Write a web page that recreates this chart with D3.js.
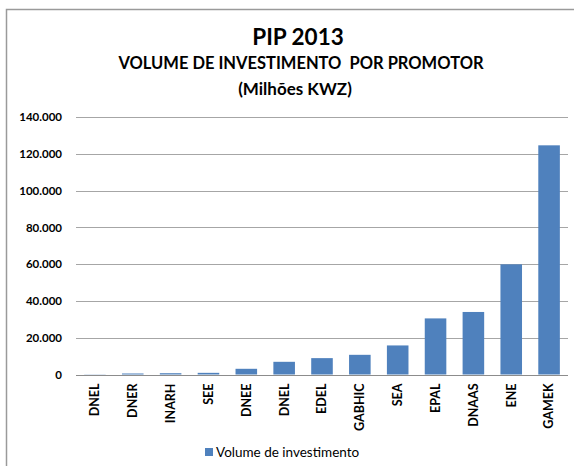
<!DOCTYPE html>
<html>
<head>
<meta charset="utf-8">
<script src="https://cdn.jsdelivr.net/npm/d3@7"></script>
<style>
  body { margin: 0; background: #fff; }
  svg { display: block; font-family: Lato, "Open Sans", sans-serif; }
</style>
</head>
<body>
<svg id="chart" width="574" height="466"></svg>
<script>
// dados
var promotores = ["DNEL", "DNER", "INARH", "SEE", "DNEE", "DNEL", "EDEL", "GABHIC", "SEA", "EPAL", "DNAAS", "ENE", "GAMEK"];
var valores = [100, 550, 700, 900, 3100, 6900, 8900, 10700, 15800, 30500, 34000, 59900, 124600];
var yTicks = [0, 20000, 40000, 60000, 80000, 100000, 120000, 140000];
var serie = "Volume de investimento";

var width = 574, height = 466;
var margin = {top: 117, right: 6, bottom: 92, left: 76};
var color = "#4f81bd";

var svg = d3.select("#chart");

// moldura (só topo e esquerda aparecem)
svg.append("path")
    .attr("d", "M6.5,470 L6.5,9.5 L580,9.5")
    .attr("fill", "none")
    .attr("stroke", "#9a9a9a")
    .attr("stroke-width", 1.5);

var idx = promotores.map(function(d, i) { return i; });

var x = d3.scaleBand()
    .domain(idx)
    .range([margin.left, width - margin.right])
    .paddingInner(0.43)
    .paddingOuter(0.215);

var y = d3.scaleLinear()
    .domain([0, 140000])
    .range([height - margin.bottom + 0.5, margin.top]);

var fmt = function(v) { return v === 0 ? "0" : d3.format(",")(v).replace(/,/g, "."); };

// grelha
svg.append("g")
    .selectAll("line")
    .data(yTicks)
    .enter()
    .append("line")
    .attr("x1", margin.left)
    .attr("x2", width - margin.right)
    .attr("y1", function(d) { return Math.round(y(d)) + 0.5; })
    .attr("y2", function(d) { return Math.round(y(d)) + 0.5; })
    .attr("stroke", function(d) { return d === 0 ? "#8c8c8c" : "#a6a6a6"; })
    .attr("stroke-width", 1.2);

// eixo y
var yAxis = d3.axisLeft(y).tickValues(yTicks).tickFormat(fmt).tickSize(0).tickPadding(14);
svg.append("g")
    .attr("transform", "translate(" + margin.left + ",0)")
    .call(yAxis)
    .call(function(g) { g.select(".domain").remove(); })
    .selectAll("text")
    .attr("font-family", "Lato, sans-serif")
    .attr("font-size", 11.5)
    .attr("font-weight", "bold")
    .attr("fill", "#000");

// barras
svg.append("g")
    .selectAll("rect")
    .data(valores)
    .enter()
    .append("rect")
    .attr("x", function(d, i) { return x(i); })
    .attr("width", x.bandwidth())
    .attr("y", function(d) { return y(d); })
    .attr("height", function(d) { return y(0) - y(d); })
    .attr("fill", color);

// eixo x
var xAxis = d3.axisBottom(x).tickFormat(function(i) { return promotores[i]; }).tickSize(0).tickPadding(0);
var gx = svg.append("g")
    .attr("transform", "translate(0," + y(0) + ")")
    .call(xAxis);
gx.select(".domain").remove();
gx.selectAll("text")
    .attr("font-family", "Lato, sans-serif")
    .attr("font-size", 12.5)
    .attr("font-weight", "bold")
    .attr("fill", "#000")
    .attr("transform", "rotate(-90)")
    .attr("x", -9)
    .attr("y", 0)
    .attr("dy", "0.35em")
    .style("text-anchor", "end");

// títulos
svg.append("text")
    .attr("x", 298).attr("y", 45)
    .attr("text-anchor", "middle")
    .attr("font-size", 22.5).attr("font-weight", "bold")
    .text("PIP 2013");
svg.append("text")
    .attr("x", 301).attr("y", 69)
    .attr("text-anchor", "middle")
    .attr("font-size", 16.5).attr("font-weight", "bold")
    .attr("xml:space", "preserve")
    .text("VOLUME DE INVESTIMENTO  POR PROMOTOR");
svg.append("text")
    .attr("x", 295).attr("y", 95)
    .attr("text-anchor", "middle")
    .attr("font-size", 17).attr("font-weight", "bold")
    .text("(Milhões KWZ)");

// legenda
var lg = svg.append("g").attr("transform", "translate(205,448)");
lg.append("rect").attr("width", 8).attr("height", 8).attr("fill", color);
lg.append("text")
    .attr("x", 11).attr("y", 4)
    .attr("dy", "0.35em")
    .attr("font-size", 13.5)
    .text(serie);
</script>
</body>
</html>
